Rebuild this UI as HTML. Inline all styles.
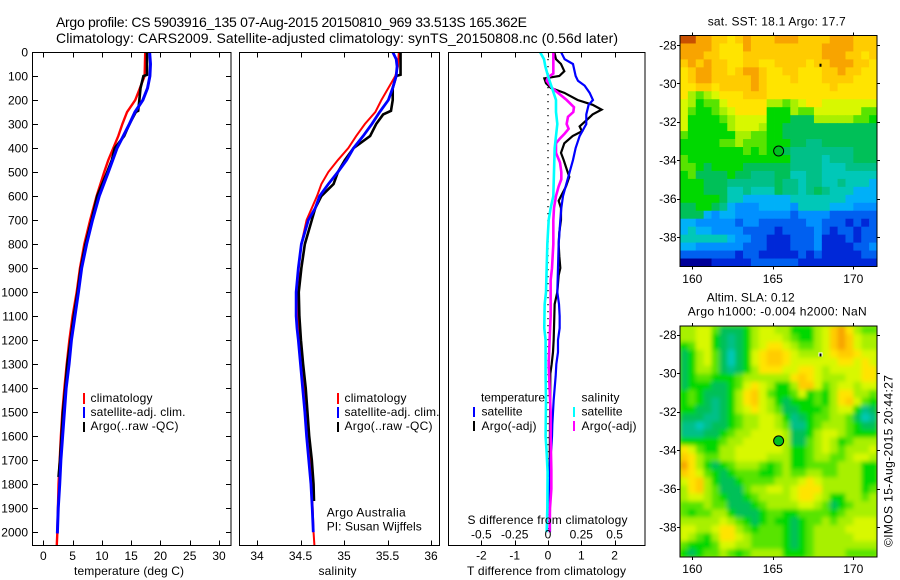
<!DOCTYPE html>
<html>
<head>
<meta charset="utf-8">
<title>Argo profile</title>
<style>
html,body{margin:0;padding:0;background:#fff;}
svg{display:block;}
text{font-family:"Liberation Sans",sans-serif;font-size:12px;fill:#000;}
.t14{font-size:14px;}
.frame{fill:none;stroke:#000;stroke-width:1.2;shape-rendering:crispEdges;}
</style>
</head>
<body>
<svg id="chart" xmlns="http://www.w3.org/2000/svg" width="900" height="580" viewBox="0 0 900 580">
<defs>
<clipPath id="clipT"><rect x="33" y="52" width="198" height="493.5"/></clipPath>
<clipPath id="clipS"><rect x="240" y="52" width="199.5" height="493.5"/></clipPath>
<clipPath id="clipD"><rect x="449" y="52" width="196" height="493.5"/></clipPath>
<clipPath id="clipM2"><rect x="680" y="326" width="197" height="231"/></clipPath>
<filter id="soft" x="-5%" y="-5%" width="110%" height="110%"><feGaussianBlur stdDeviation="2"/></filter>
</defs>
<rect x="0" y="0" width="900" height="580" fill="#fff"/>

<text class="t14" x="56" y="27" textLength="471" lengthAdjust="spacing">Argo profile: CS 5903916_135 07-Aug-2015 20150810_969 33.513S 165.362E</text>
<text class="t14" x="56" y="43" textLength="562" lengthAdjust="spacing">Climatology: CARS2009. Satellite-adjusted climatology: synTS_20150808.nc (0.56d later)</text>

<g id="mapLayer"></g>
<g id="profileLayer"></g>
<g id="axisLayer"></g>

<text x="74" y="575" textLength="110">temperature (deg C)</text>
<text x="318.5" y="575" textLength="38">salinity</text>
<text x="467" y="575" textLength="159">T difference from climatology</text>
<text x="467.5" y="524" textLength="160">S difference from climatology</text>

<g>
<rect x="83" y="393" width="2" height="11" fill="#f00"/>
<rect x="83" y="407" width="2" height="11" fill="#00f"/>
<rect x="83" y="422" width="2" height="10" fill="#000"/>
<text x="90.5" y="402" textLength="62">climatology</text>
<text x="90.5" y="416" textLength="95">satellite-adj. clim.</text>
<text x="90.5" y="430" textLength="88">Argo(..raw -QC)</text>
</g>
<g>
<rect x="337" y="393" width="2" height="11" fill="#f00"/>
<rect x="337" y="407" width="2" height="11" fill="#00f"/>
<rect x="337" y="422" width="2" height="10" fill="#000"/>
<text x="344.5" y="402" textLength="62">climatology</text>
<text x="344.5" y="416" textLength="95">satellite-adj. clim.</text>
<text x="344.5" y="430" textLength="88">Argo(..raw -QC)</text>
</g>
<text x="326.7" y="516.7" textLength="79">Argo Australia</text>
<text x="326.7" y="530.7" textLength="95">PI: Susan Wijffels</text>

<g>
<text x="481" y="401.7" textLength="64">temperature</text>
<text x="581.5" y="401.7" textLength="38">salinity</text>
<rect x="473" y="407" width="2" height="10" fill="#00f"/>
<rect x="473" y="421" width="2" height="10" fill="#000"/>
<rect x="573" y="407" width="2" height="10" fill="#0ff"/>
<rect x="573" y="421" width="2" height="10" fill="#f0f"/>
<text x="481.5" y="415.7" textLength="41">satellite</text>
<text x="481.5" y="430" textLength="55">Argo(-adj)</text>
<text x="581.5" y="415.7" textLength="41">satellite</text>
<text x="581.5" y="430" textLength="55">Argo(-adj)</text>
</g>

<text x="707.7" y="25.7" textLength="138">sat. SST: 18.1  Argo: 17.7</text>
<text x="706.7" y="301.7" textLength="88">Altim. SLA: 0.12</text>
<text x="687.7" y="315.7" textLength="179">Argo h1000: -0.004 h2000: NaN</text>
<text transform="translate(892.5,547) rotate(-90)" x="0" y="0" textLength="172">©IMOS 15-Aug-2015 20:44:27</text>
</svg>

<script>
// ---- axis tick labels ----
const depthTicks = [0,100,200,300,400,500,600,700,800,900,1000,1100,1200,1300,1400,1500,1600,1700,1800,1900,2000];
const tempTicks = [0,5,10,15,20,25,30];
const salTicks = [34,34.5,35,35.5,36];
const diffTTicks = [-2,-1,0,1,2];
const diffSTicks = [-0.5,-0.25,0,0.25,0.5];
const lonTicks = [160,165,170];
const latTicks = [-28,-30,-32,-34,-36,-38];

// ---- temperature profiles ----
const tClimDepth = [0,100,150,200,250,300,350,400,450,500,600,700,800,900,1000,1100,1200,1300,1400,1500,1600,1700,1800,1900,2000,2055];
const tClimValue = [17.4,17.3,16.5,15.7,14.3,13.5,12.8,11.95,11.1,10.4,9.1,8.0,7.0,6.26,5.7,5.0,4.45,4.0,3.6,3.25,3.0,2.8,2.6,2.5,2.4,2.3];
const tSatDepth = [0,50,100,150,200,250,300,350,400,450,500,600,700,800,900,1000,1100,1200,1300,1400,1500,1600,1700,1800,1900,2005];
const tSatValue = [18.15,18.3,18.2,17.8,17.0,15.65,14.7,13.65,12.6,11.85,11.1,9.55,8.4,7.4,6.55,6.0,5.4,4.8,4.4,3.9,3.6,3.3,3.0,2.8,2.55,2.4];
const tArgoDepth = [0,95,100,150,200,245,250,300,350,400,450,500,600,700,800,900,1000,1100,1200,1300,1400,1500,1600,1700,1770];
const tArgoValue = [17.7,17.7,17.1,16.6,16.4,16.2,15.8,14.7,13.8,12.2,11.7,10.9,9.2,8.25,7.2,6.4,5.85,5.2,4.65,4.1,3.75,3.35,3.1,2.85,2.6];

// ---- salinity profiles ----
const sClimDepth = [0,60,100,150,200,250,300,350,400,450,500,550,600,650,700,800,900,1000,1100,1200,1300,1400,1500,1600,1700,1800,1900,2000,2055];
const sClimValue = [35.63,35.62,35.59,35.51,35.43,35.36,35.24,35.14,35.05,34.93,34.82,34.74,34.69,34.63,34.57,34.51,34.48,34.47,34.465,34.49,34.51,34.54,34.56,34.59,34.61,34.63,34.64,34.65,34.66];
const sSatDepth = [0,30,60,100,150,200,250,300,350,400,450,500,550,600,650,700,750,800,900,1000,1100,1150,1200,1300,1400,1500,1600,1700,1800,1900,2000];
const sSatValue = [35.56,35.6,35.61,35.6,35.56,35.51,35.41,35.32,35.22,35.11,35.03,34.93,34.82,34.72,34.67,34.59,34.55,34.51,34.475,34.45,34.45,34.46,34.475,34.5,34.525,34.55,34.57,34.595,34.62,34.635,34.647];
const sArgoDepth = [0,95,100,150,200,245,260,300,350,400,450,500,550,600,650,700,800,900,1000,1100,1200,1300,1400,1500,1600,1700,1800,1870];
const sArgoValue = [35.65,35.65,35.6,35.56,35.56,35.54,35.45,35.37,35.3,35.11,35.01,34.93,34.88,34.74,34.67,34.63,34.55,34.51,34.48,34.487,34.505,34.53,34.56,34.58,34.6,34.63,34.65,34.655];

// ---- difference profiles ----
const dTSatDepth = [0,30,50,100,120,140,170,200,220,260,300,350,400,450,500,550,600,650,700,800,900,1000,1050,1100,1150,1200,1250,1300,1350,1400,1450,1500,1550,1600,1650,1700,1800,1850,1950,2000];
const dTSatValue = [0.39,0.5,0.75,0.83,0.9,1.1,1.25,1.35,1.22,1.15,1.15,0.95,0.83,0.75,0.65,0.55,0.45,0.4,0.37,0.32,0.3,0.28,0.33,0.35,0.35,0.3,0.3,0.25,0.23,0.2,0.17,0.15,0.13,0.12,0.1,0.06,0.05,0.05,0.06,0.06];
const dTArgoDepth = [0,30,50,80,100,110,130,150,170,200,220,240,260,280,310,330,350,380,420,450,500,520,560,600,620,650,700,750,800,850,900,930,1000,1050,1100,1200,1250,1300,1340,1770];
const dTArgoValue = [0.19,0.24,0.39,0.49,0.34,-0.11,-0.06,0.09,0.49,0.89,1.34,1.61,1.34,1.19,0.95,1.02,0.74,0.49,0.39,0.47,0.59,0.64,0.54,0.39,0.32,0.39,0.39,0.34,0.32,0.34,0.37,0.32,0.28,0.2,0.19,0.17,0.15,0.11,0.07,0.05];
const dSArgoDepth = [0,50,90,105,120,150,170,200,230,250,270,300,320,340,360,380,420,460,500,530,560,600,650,700,800,900,950,1000,1100,1200,1300,1400,1500,1600,1740,1820,1900,2000];
const dSArgoValue = [0.04,0.04,0.04,0,-0.01,0.03,0.075,0.14,0.195,0.19,0.15,0.14,0.155,0.125,0.09,0.06,0.06,0.09,0.1,0.1,0.08,0.06,0.045,0.04,0.04,0.03,0.02,0.02,0.02,0.012,0.005,0.012,0.02,0.02,0.025,0.025,0.015,0.012];
const dSSatDepth = [0,30,60,100,150,200,250,300,350,400,500,600,650,700,800,900,1000,1050,1150,1200,1350,1450,1600,1670,1750,1900,2000];
const dSSatValue = [-0.06,-0.03,-0.02,0,0.03,0.06,0.06,0.07,0.06,0.05,0.045,0.04,0.02,0.005,-0.005,-0.01,-0.015,-0.025,-0.028,-0.018,-0.018,-0.015,-0.018,-0.01,-0.003,-0.005,-0.01];
const zeroDiffDepth = [0,2000];
const zeroDiffValue = [0,0];

// ---- gridded maps (colour-level per cell, north to south, west to east) ----
const sstGrid = [
[15,15,14,14,13,13,12,13,14,13,13,13,14,14,14,13,13,13,13,14,14,14,13,13,13],
[14,14,14,14,13,12,12,12,14,13,13,13,13,13,13,13,13,13,14,14,14,14,13,13,13],
[14,14,14,13,13,12,12,12,13,13,13,13,13,13,13,13,13,13,14,14,14,13,13,12,13],
[13,14,13,14,13,13,12,12,13,13,12,12,13,13,13,13,12,13,13,14,14,14,13,13,12],
[12,13,14,14,13,13,12,13,14,14,13,12,12,13,13,12,12,12,13,13,14,13,13,12,12],
[12,13,14,14,13,13,13,13,13,14,13,12,12,12,13,12,12,12,13,13,13,13,12,12,12],
[12,12,13,13,12,13,13,13,13,14,13,12,12,12,12,12,12,12,12,13,12,12,12,12,12],
[12,10,9,10,11,12,12,12,13,13,13,12,12,12,12,12,12,12,12,12,12,12,12,12,12],
[11,10,8,9,9,11,12,12,12,12,12,10,10,9,10,11,12,12,11,11,11,11,11,11,11],
[11,9,8,8,9,10,11,12,12,12,12,8,8,8,10,9,9,11,11,11,11,11,11,9,9],
[11,8,8,8,8,9,10,11,11,11,11,8,8,8,7,7,7,10,10,10,10,10,9,9,8],
[11,8,8,8,8,8,10,11,11,11,10,8,8,7,7,7,7,7,7,7,7,7,7,7,7],
[9,8,8,8,8,8,8,10,10,9,9,8,8,7,7,7,7,7,7,7,7,7,7,7,7],
[8,8,8,8,8,9,9,10,9,9,9,8,8,8,7,7,6,6,7,7,7,7,7,7,7],
[8,8,8,8,8,8,8,8,9,8,9,8,8,7,6,6,6,6,6,6,6,6,7,7,7],
[9,8,8,8,8,8,8,8,8,8,8,8,8,8,6,6,6,6,5,6,6,6,7,7,7],
[9,9,8,7,8,8,8,8,7,7,7,7,7,7,6,6,6,6,5,5,5,6,6,6,6],
[8,9,7,7,7,7,8,7,7,6,6,6,7,7,5,5,6,6,5,5,5,5,5,5,5],
[8,8,8,7,7,7,6,6,6,6,6,6,7,6,6,5,6,6,5,5,6,5,5,5,4],
[8,8,8,7,7,7,5,5,6,5,5,5,7,6,6,5,6,7,6,5,5,5,4,4,4],
[8,8,8,8,8,7,5,5,4,4,4,4,4,4,5,5,5,5,5,5,5,4,4,4,4],
[7,7,8,8,7,6,4,3,3,3,4,4,4,4,3,5,5,5,5,4,4,4,3,3,3],
[7,7,7,4,3,4,4,3,3,3,3,3,3,3,2,3,3,3,3,2,2,2,2,2,2],
[4,4,3,3,3,3,3,2,3,3,2,2,2,2,2,2,3,3,2,2,2,1,2,1,2],
[4,5,4,4,3,3,3,3,2,2,2,2,1,2,2,2,2,3,2,1,2,2,1,2,2],
[5,5,5,5,5,5,4,3,3,2,2,1,1,1,2,2,2,3,1,1,1,2,1,2,2],
[4,4,3,3,3,3,3,3,2,2,2,1,1,1,2,2,2,3,1,1,1,1,2,2,3],
[2,2,2,2,2,2,2,1,2,2,1,1,1,1,1,2,1,2,1,1,1,1,1,2,2],
[0,0,0,0,1,1,1,1,1,2,2,2,2,2,2,1,1,1,1,1,1,1,1,1,1]
];
const slaGrid = [
[10,10,11,11,9,7,7,7,8,10,11,11,10,10,8,8,8,10,11,13,14,12,10,9,9],
[10,10,11,11,8,7,6,7,8,10,11,11,11,10,9,8,8,10,11,13,14,13,11,10,10],
[8,9,11,11,8,7,6,7,8,10,11,12,12,11,10,9,9,10,11,13,14,13,11,10,10],
[7,8,10,11,9,7,5,7,8,11,12,13,13,12,11,10,10,10,11,12,13,13,12,11,11],
[7,8,10,11,9,7,5,7,8,11,12,13,13,12,11,11,11,11,11,11,12,12,11,12,11],
[7,8,10,10,9,7,6,7,8,10,12,12,12,11,11,12,12,11,10,11,11,11,11,12,12],
[7,8,9,9,8,8,8,9,10,10,10,10,10,10,12,13,12,11,10,10,10,11,11,12,12],
[7,8,8,8,7,7,8,9,11,12,11,10,8,8,10,13,13,11,9,10,11,11,10,11,11],
[8,9,8,7,7,7,8,10,12,13,11,9,8,8,9,11,8,9,8,10,12,12,10,10,9],
[8,9,8,7,6,7,8,10,12,13,11,10,8,7,8,8,8,9,8,10,12,13,11,9,8],
[8,8,7,7,6,7,8,10,11,12,11,10,9,7,7,8,8,8,9,10,11,11,8,6,7],
[7,7,7,6,6,7,8,9,10,10,11,11,10,8,6,7,8,9,9,10,10,9,7,5,6],
[6,6,5,6,7,7,8,9,10,10,11,11,10,9,6,6,8,9,10,10,10,9,8,7,7],
[6,6,6,7,7,8,9,10,10,11,11,11,11,10,7,7,8,10,11,11,10,9,8,8,8],
[8,8,8,8,8,9,10,10,11,11,11,11,11,10,7,7,9,10,11,10,8,9,10,10,10],
[12,11,9,8,8,10,10,11,11,11,11,11,11,10,8,8,9,10,11,10,9,10,10,10,11],
[13,12,10,9,9,10,10,11,11,11,11,10,10,10,8,8,9,10,10,9,9,10,11,11,10],
[14,12,10,8,7,8,9,10,10,10,9,8,9,10,8,8,9,9,9,9,10,10,10,8,8],
[13,12,11,9,8,7,8,9,9,9,8,8,9,10,9,9,10,10,9,9,10,10,10,8,8],
[11,12,13,10,8,7,7,8,9,9,9,9,10,10,10,11,12,11,10,10,10,10,10,8,8],
[10,12,13,10,9,7,7,7,9,10,10,11,11,10,11,12,12,12,10,10,10,10,10,8,9],
[10,11,11,10,9,8,7,7,8,9,10,10,10,10,11,12,12,11,10,8,8,10,10,9,10],
[9,9,9,10,9,9,7,7,7,8,9,10,10,10,10,11,11,10,9,7,8,9,10,10,10],
[9,8,9,9,10,10,8,7,7,7,8,9,9,8,8,9,9,9,9,8,9,10,10,10,10],
[10,10,10,10,10,11,10,9,8,7,8,9,8,8,7,8,9,9,10,9,10,10,11,11,11],
[11,11,10,10,11,12,12,10,9,8,9,9,9,8,7,8,9,10,10,10,10,11,11,11,11],
[11,10,9,8,10,12,12,11,10,9,9,9,9,8,7,8,9,10,10,10,10,10,11,11,11],
[9,8,8,8,9,11,11,10,10,9,9,9,9,8,7,8,9,10,10,10,10,10,10,10,10],
[8,7,8,9,9,10,9,8,9,10,10,10,10,8,8,8,9,10,10,10,10,9,9,9,9]
];
const profileLon = [165.362];
const profileLat = [-33.513];

// ---- scales ----
const colorLevels = ['#000098','#0028d8','#0060f0','#0090ff','#00b0f8','#00c8b8','#00c088','#00c058','#00d800','#58e400','#a8f000','#d8f800','#ffe400','#ffcc00','#f8a400','#c85000'];
const yDepth = d => 52 + 0.2401 * d;
const xTemp = v => 43.3 + 5.857 * v;
const xSal = v => 257 + 87 * (v - 34);
const xDiffT = v => 548 + 33.3 * v;
const xDiffS = v => 548 + 133.2 * v;
const xLon = v => 692.3 + 16.1 * (v - 160);
const yLatMap1 = v => 45 + 19.23 * (-28 - v);
const yLatMap2 = v => 334.7 + 19.26 * (-28 - v);

const NS = 'http://www.w3.org/2000/svg';
const mapLayer = document.getElementById('mapLayer');
const profileLayer = document.getElementById('profileLayer');
const axisLayer = document.getElementById('axisLayer');

function svgEl(tag, props, parent){
  const el = document.createElementNS(NS, tag);
  for (const k in props) el.setAttribute(k, props[k]);
  parent.appendChild(el);
  return el;
}

function drawLine(depths, values, xFn, color, width, clip, name, dash){
  const pts = depths.map((d, i) => xFn(values[i]).toFixed(2) + ',' + yDepth(d).toFixed(2)).join(' ');
  const props = {points: pts, fill: 'none', stroke: color, 'stroke-width': width, 'clip-path': 'url(#' + clip + ')'};
  if (dash) props['stroke-dasharray'] = dash;
  const el = svgEl('polyline', props, profileLayer);
  
  
}

function drawGrid(grid, box, parent, name){
  const g = svgEl('g', {}, parent);
  
  
  const rows = grid.length, cols = grid[0].length;
  const w = box.w / cols, h = box.h / rows;
  grid.forEach((row, r) => row.forEach((level, c) => {
    const cell = svgEl('rect', {
      x: (box.x + c * w).toFixed(2), y: (box.y + r * h).toFixed(2),
      width: (w + 0.4).toFixed(2), height: (h + 0.4).toFixed(2),
      fill: colorLevels[Math.max(0, Math.min(colorLevels.length - 1, Math.round(level)))]
    }, g);
    
    
  }));
  return g;
}

function frame(x, y, w, h, name){
  const el = svgEl('rect', {x: x, y: y, width: w, height: h, class: 'frame'}, axisLayer);
  
  
}

function tick(x1, y1, x2, y2, name){
  const el = svgEl('line', {x1: x1, y1: y1, x2: x2, y2: y2, stroke: '#000', 'stroke-width': 1, 'shape-rendering': 'crispEdges'}, axisLayer);
  
  
}

function label(x, y, str, anchor, name){
  const el = svgEl('text', {x: x, y: y, 'text-anchor': anchor}, axisLayer);
  el.textContent = str;
  
  
}

function xAxisTicks(ticks, xFn, top, bottom, labelY, name, fmt){
  ticks.forEach(v => {
    const x = Math.round(xFn(v)) + 0.5;
    tick(x, top, x, top + 5, name + '-tick');
    tick(x, bottom, x, bottom - 5, name + '-tick');
    if (labelY) label(xFn(v), labelY, fmt ? fmt(v) : String(v), 'middle', name + '-label');
  });
}

// ---- maps ----
const sstBox = {x: 680, y: 35.5, w: 197, h: 231};
const slaBox = {x: 680, y: 326, w: 197, h: 231};
drawGrid(sstGrid, sstBox, mapLayer, 'sst-heatmap');
const slaClip = svgEl('g', {'clip-path': 'url(#clipM2)'}, mapLayer);


const slaUnder = svgEl('rect', {x: 680, y: 326, width: 197, height: 231, fill: '#a0ec00'}, slaClip);


const slaBlur = svgEl('g', {filter: 'url(#soft)'}, slaClip);


drawGrid(slaGrid, slaBox, slaBlur, 'sla-heatmap');

// ---- profile lines ----
drawLine(tClimDepth, tClimValue, xTemp, '#f00', 2.4, 'clipT', 'temperature-climatology-line');
drawLine(tArgoDepth, tArgoValue, xTemp, '#000', 2.6, 'clipT', 'temperature-argo-line');
drawLine(tSatDepth, tSatValue, xTemp, '#00f', 3, 'clipT', 'temperature-satellite-line');
drawLine(sClimDepth, sClimValue, xSal, '#f00', 2, 'clipS', 'salinity-climatology-line');
drawLine(sArgoDepth, sArgoValue, xSal, '#000', 2.6, 'clipS', 'salinity-argo-line');
drawLine(sSatDepth, sSatValue, xSal, '#00f', 2.8, 'clipS', 'salinity-satellite-line');
drawLine(zeroDiffDepth, zeroDiffValue, xDiffT, '#000', 1.3, 'clipD', 'zero-difference-line', '1.3 5.7');
drawLine(dTArgoDepth, dTArgoValue, xDiffT, '#000', 2.2, 'clipD', 't-difference-argo-line');
drawLine(dTSatDepth, dTSatValue, xDiffT, '#00f', 2.2, 'clipD', 't-difference-satellite-line');
drawLine(dSArgoDepth, dSArgoValue, xDiffS, '#f0f', 2.6, 'clipD', 's-difference-argo-line');
drawLine(dSSatDepth, dSSatValue, xDiffS, '#0ff', 2.6, 'clipD', 's-difference-satellite-line');

// ---- profile panels ----
frame(32.5, 52.5, 198.5, 493, 'temperature-panel-frame');
frame(239.5, 52.5, 200, 493, 'salinity-panel-frame');
frame(448.5, 52.5, 196.5, 493, 'difference-panel-frame');

depthTicks.forEach(d => {
  const y = Math.round(yDepth(d)) + 0.5;
  if (d > 0) {
    tick(33, y, 38, y, 'depth-tick');
    tick(231, y, 226, y, 'depth-tick');
  }
  label(28, yDepth(d) + 4.3, String(d), 'end', 'depth-label');
});
xAxisTicks(tempTicks, xTemp, 52.5, 545.5, 560, 'temperature-axis');
xAxisTicks(salTicks, xSal, 52.5, 545.5, 560, 'salinity-axis');
xAxisTicks(diffTTicks, xDiffT, 52.5, 545.5, 559.3, 't-difference-axis');
xAxisTicks(diffSTicks, xDiffS, 52.5, 545.5, 538.7, 's-difference-axis');

// ---- map axes ----
function mapAxes(box, yFn, labelY, prefix, speckColor){
  frame(box.x, box.y, box.w, box.h, prefix + '-map-frame');
  lonTicks.forEach(v => {
    const x = Math.round(xLon(v)) + 0.5;
    tick(x, box.y, x, box.y - 3, prefix + '-lon-tick');
    tick(x, box.y + box.h, x, box.y + box.h + 3, prefix + '-lon-tick');
    label(xLon(v), labelY, String(v), 'middle', prefix + '-lon-label');
  });
  latTicks.forEach(v => {
    const y = Math.round(yFn(v)) + 0.5;
    tick(box.x, y, box.x - 3, y, prefix + '-lat-tick');
    tick(box.x + box.w, y, box.x + box.w + 3, y, prefix + '-lat-tick');
    label(676.5, yFn(v) + 4.3, String(v), 'end', prefix + '-lat-label');
  });
  const circle = svgEl('circle', {cx: xLon(profileLon[0]), cy: yFn(profileLat[0]), r: 5, fill: '#00c020', stroke: '#000', 'stroke-width': 1}, axisLayer);
  
  
  const halo = svgEl('rect', {x: 818.5, y: yFn(-29.0) - 1.5, width: 4, height: 4, fill: speckColor}, axisLayer);
  
  
  const speck = svgEl('rect', {x: 819.5, y: yFn(-29.0) - 0.5, width: 2, height: 3, fill: '#000'}, axisLayer);
  
  
}
mapAxes({x: 680, y: 35.5, w: 197, h: 231}, yLatMap1, 283, 'sst', 'none');
mapAxes({x: 680, y: 326, w: 197, h: 231}, yLatMap2, 573, 'sla', '#fff');
</script>
</body>
</html>
